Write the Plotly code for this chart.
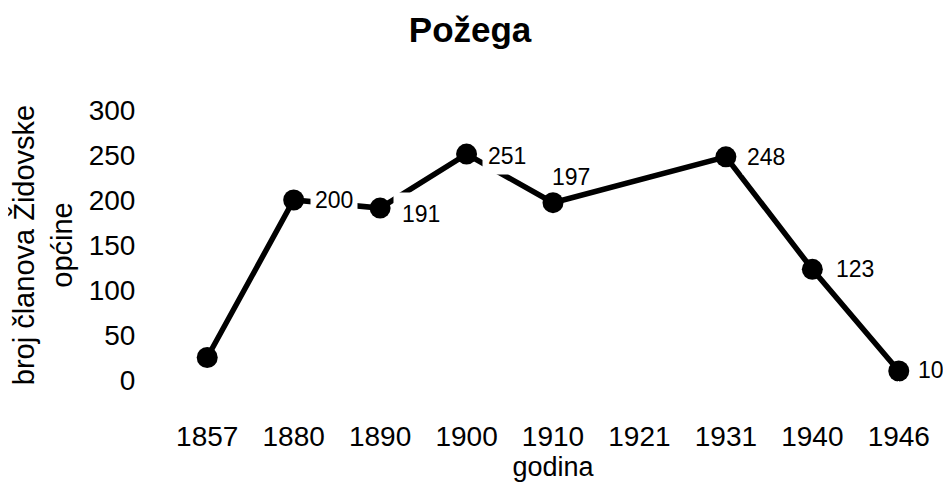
import plotly.graph_objects as go

years = ["1857", "1880", "1890", "1900", "1910", "1921", "1931", "1940", "1946"]
members = [25, 200, 191, 251, 197, None, 248, 123, 10]
labels = ["", "200", "191", "251", "197", "", "248", "123", "10"]
y_ticks = [0, 50, 100, 150, 200, 250, 300]

# label placement: (xshift, yshift, borderpad, white box)
label_style = {"200": (40, 0, 4, True), "191": (41, -6, 8, True), "251": (40, -2, 5, True),
               "197": (18, 26, 2, False), "248": (40, 0, 4, True),
               "123": (43, 0, 4, True), "10": (32, 1, 4, True)}

FONT = "Liberation Sans, Arial, Helvetica, sans-serif"

annotations = []
for i, (yr, v, lab) in enumerate(zip(years, members, labels)):
    if not lab or v is None:
        continue
    dx, dy, pad, box = label_style[lab]
    annotations.append(dict(x=i, y=v, xref="x", yref="y", text=lab, showarrow=False,
                            xshift=dx, yshift=dy,
                            font=dict(family=FONT, size=23, color="black"),
                            bgcolor="white" if box else "rgba(0,0,0,0)", borderpad=pad))

fig = go.Figure()
fig.add_trace(go.Scatter(
    x=years, y=members, mode="lines+markers", connectgaps=True,
    line=dict(color="black", width=5.5),
    marker=dict(color="black", size=21),
    cliponaxis=False, showlegend=False, hoverinfo="skip",
))

fig.update_layout(
    width=943, height=477,
    margin=dict(l=156, r=9, t=102, b=105),
    paper_bgcolor="white", plot_bgcolor="white",
    font=dict(family=FONT, color="black"),
    annotations=annotations,
    title=dict(text="<b>Požega</b>", x=0.49, xref="container", xanchor="center",
               y=0.955, yanchor="middle",
               font=dict(family=FONT, size=35, color="black")),
)
fig.update_xaxes(
    type="category", categoryorder="array", categoryarray=years,
    range=[-0.5, 8.5], showgrid=False, showline=False, zeroline=False,
    ticks="outside", ticklen=31, tickcolor="white", automargin=False,
    tickfont=dict(family=FONT, size=28, color="black"),
    title=dict(text="godina", font=dict(family=FONT, size=27, color="black"), standoff=4),
)
fig.update_yaxes(
    range=[0, 300], tickvals=y_ticks, showgrid=False, showline=False, zeroline=False,
    ticks="outside", ticklen=22, tickcolor="white", automargin=False,
    tickfont=dict(family=FONT, size=28, color="black"),
    title=dict(text="broj članova Židovske<br>općine",
               font=dict(family=FONT, size=29, color="black"), standoff=7),
)

fig.write_html("out.html")
